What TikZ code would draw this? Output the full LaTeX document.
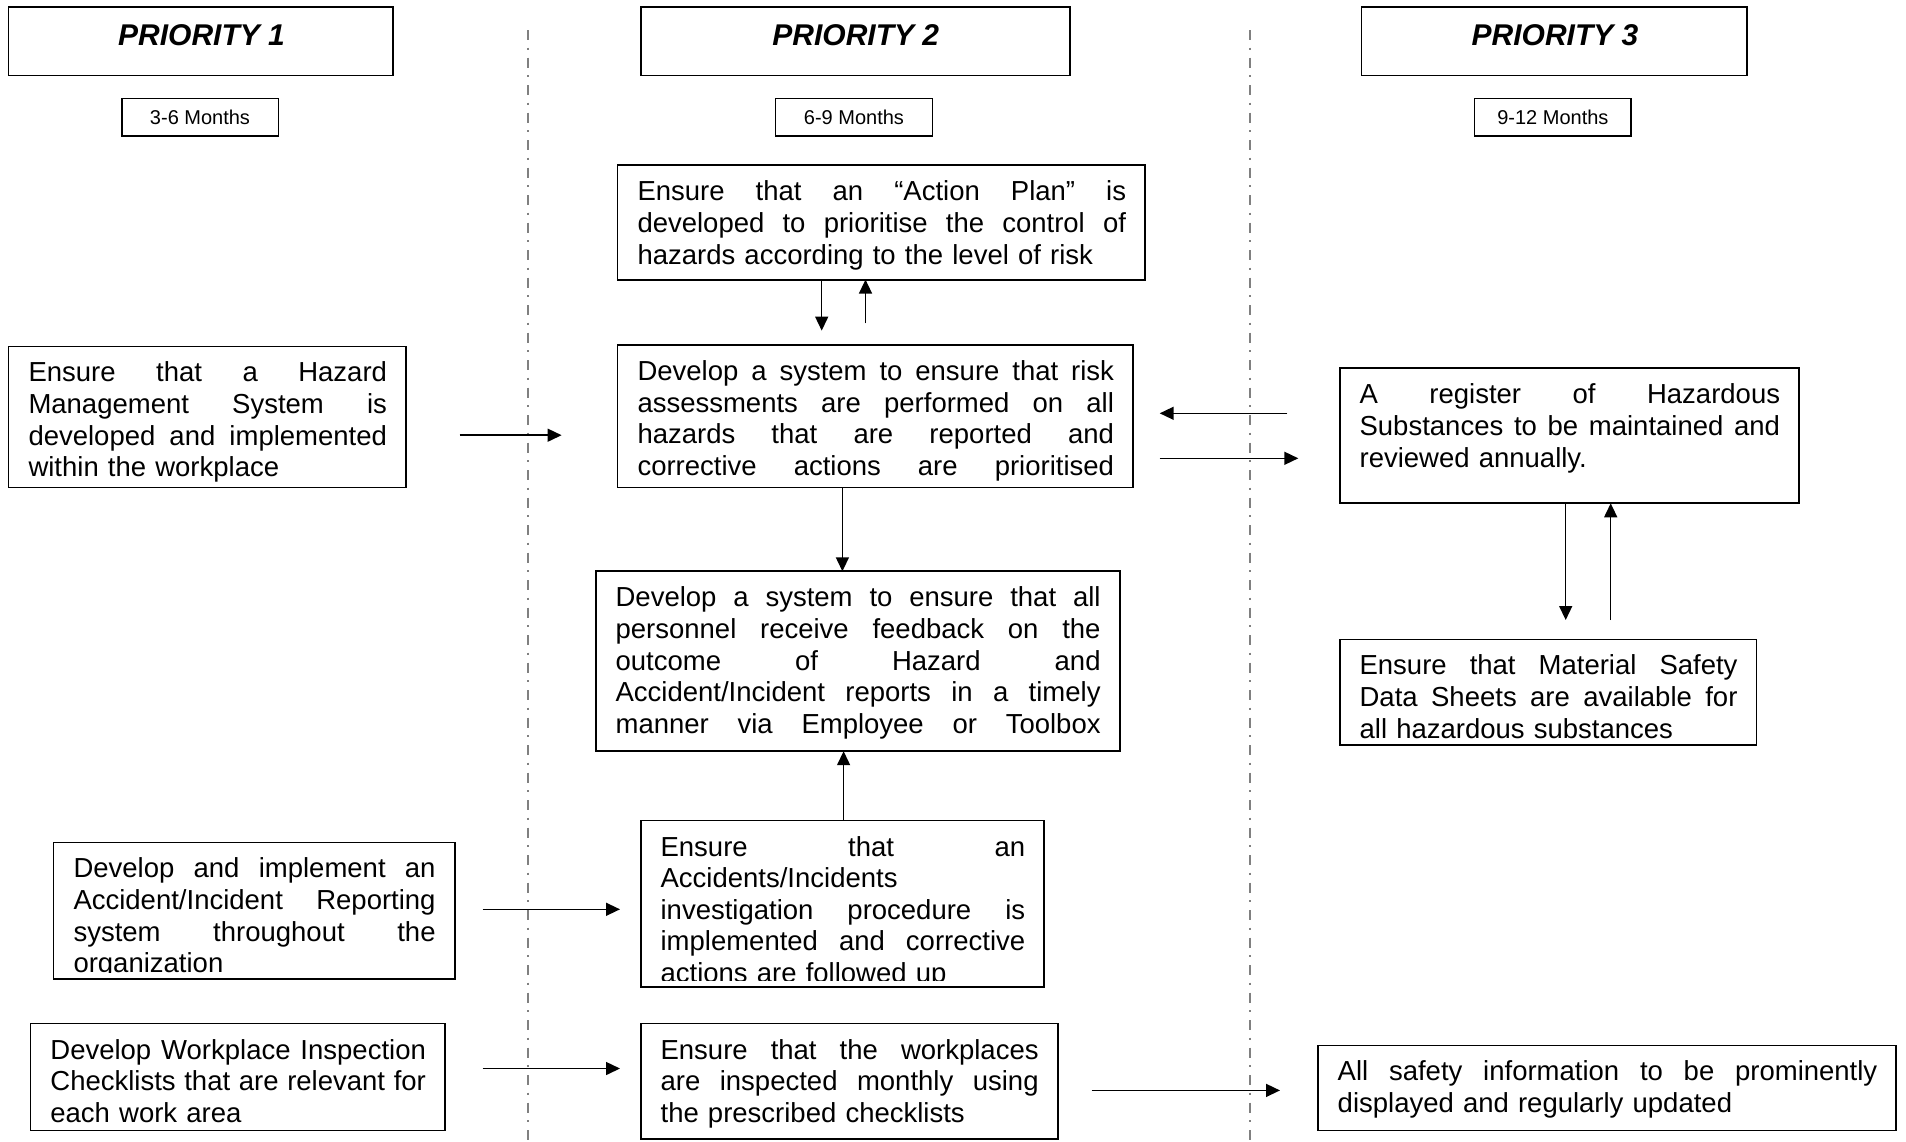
\documentclass[tikz,border=0pt]{standalone}
\usepackage{fontspec}
\setmainfont{Liberation Sans}
\usetikzlibrary{arrows.meta}

\tikzset{
  frame/.style={draw, line width=1.8pt, inner sep=0pt, outer sep=0pt},
  body/.style={inner sep=0pt, outer sep=0pt, align=left, font=\fontsize{27.5}{31.6}\selectfont},
  head/.style={inner sep=0pt, font=\fontsize{30}{36}\selectfont\bfseries\itshape},
  months/.style={frame, anchor=north west, font=\fontsize{20}{24}\selectfont},
  arr/.style={line width=1.5pt, -{Triangle[length=14pt,width=13pt]}},
  divider/.style={draw=black!50, line width=2pt, dash pattern=on 10pt off 7.5pt on 2pt off 8pt},
}

\newlength\tblen
% a line spread over the full text width: every word space stretches alike
\newcommand\spreadline[1]{\leavevmode\hbox to \tblen{\spaceskip=\fontdimen2\font plus 1fil\relax
  \xspaceskip=\spaceskip #1}}
% a justified line that is followed by another line
\newcommand\jl[1]{\spreadline{#1}\\}
% a justified line that ends the text
\newcommand\jx[1]{\spreadline{#1}}

% framed text box: name, x, y (top left), width, height, lines
\newcommand\tbox[6]{%
  \pgfmathsetmacro\tbw{#4-39}%
  \setlength\tblen{\tbw pt}%
  \node[frame, anchor=north west, minimum width=#4pt, minimum height=#5pt] (#1) at (#2,#3) {};
  \begin{scope}
    \clip (#2,#3) rectangle (#2+#4,#3+#5-6.5);
    \node[body, anchor=north west, text width=\tblen] (#1-txt) at (#2+20,#3+10.5)
      {\noindent\rule{0pt}{25pt}#6};
  \end{scope}}

\begin{document}
\begin{tikzpicture}[x=1pt, y=-1pt]
\fill[white] (0,0) rectangle (1906,1141);
\useasboundingbox (0,0) rectangle (1906,1141);

% column dividers
\draw[divider] (527.6,30) -- (527.6,1141);
\draw[divider] (1249.6,30) -- (1249.6,1141);

% column headings
\node[frame, anchor=north west, minimum width=384.1pt, minimum height=68.1pt] (p1) at (8.5,7.3) {};
\node[frame, anchor=north west, minimum width=429.1pt, minimum height=68.1pt] (p2) at (640.6,7.3) {};
\node[frame, anchor=north west, minimum width=385.3pt, minimum height=68.1pt] (p3) at (1361.5,7.3) {};
\node[head, anchor=base] (p1t) at (201.5,45.5) {PRIORITY 1};
\node[head, anchor=base] (p2t) at (855.8,45.5) {PRIORITY 2};
\node[head, anchor=base] (p3t) at (1555,45.5) {PRIORITY 3};

\node[months, minimum width=156.8pt, minimum height=37.6pt] (m1) at (121.6,98.5) {3-6 Months};
\node[months, minimum width=156.9pt, minimum height=37.6pt] (m2) at (775.5,98.5) {6-9 Months};
\node[months, minimum width=156.8pt, minimum height=37.6pt] (m3) at (1474.5,98.5) {9-12 Months};

% activity boxes
\tbox{action}{617.5}{165.3}{527.6}{114.3}{%
\jl{Ensure that an “Action Plan” is}
\jl{developed to prioritise the control of}
hazards according to the level of risk}

\tbox{hazard}{8.5}{346.4}{397.5}{141.1}{%
\jl{Ensure that a Hazard}
\jl{Management System is}
\jl{developed and implemented}
within the workplace}

\tbox{risk}{617.5}{345.2}{515.5}{142.3}{%
\jl{Develop a system to ensure that risk}
\jl{assessments are performed on all}
\jl{hazards that are reported and}
\jx{corrective actions are prioritised}}

\tbox{register}{1339.6}{368.3}{459.5}{135}{%
\jl{A register of Hazardous}
\jl{Substances to be maintained and}
reviewed annually.}

\tbox{msds}{1339.6}{639.4}{416.9}{105.8}{%
\jl{Ensure that Material Safety}
\jl{Data Sheets are available for}
all hazardous substances}

\tbox{feedback}{595.6}{571.3}{524}{179.9}{%
\jl{Develop a system to ensure that all}
\jl{personnel receive feedback on the}
\jl{outcome of Hazard and}
\jl{Accident/Incident reports in a timely}
\jx{manner via Employee or Toolbox}}

\tbox{investigation}{640.6}{820.5}{403.6}{166.6}{%
\jl{Ensure that an}
Accidents/Incidents\\
\jl{investigation procedure is}
\jl{implemented and corrective}
actions are followed up}

\tbox{reporting}{53.5}{842.4}{401.1}{136.2}{%
\jl{Develop and implement an}
\jl{Accident/Incident Reporting}
\jl{system throughout the}
organization}

\tbox{checklists}{30.4}{1023.5}{414.5}{107}{%
\jl{Develop Workplace Inspection}
\jl{Checklists that are relevant for}
each work area}

\tbox{monthly}{640.6}{1023.5}{417}{115.5}{%
\jl{Ensure that the workplaces}
\jl{are inspected monthly using}
the prescribed checklists}

\tbox{allsafety}{1317.7}{1045.4}{578.6}{85.1}{%
\jl{All safety information to be prominently}
displayed and regularly updated}

% connector levels
\coordinate (ya) at (0,435.2);
\coordinate (xb) at (821.7,0);
\coordinate (xc) at (865.5,0);
\coordinate (yd) at (0,413.3);
\coordinate (ye) at (0,458.3);
\coordinate (xf) at (1565.7,0);
\coordinate (xg) at (1610.7,0);
\coordinate (xh) at (842.4,0);
\coordinate (xi) at (843.6,0);
\coordinate (yj) at (0,909.3);
\coordinate (yk) at (0,1068.5);
\coordinate (yl) at (0,1090.4);

% connectors
\draw[arr, shorten <=53.5pt, shorten >=55.9pt] (hazard.east |- ya) -- (risk.west |- ya);
\draw[arr, shorten >=14.6pt] (action.south -| xb) -- (risk.north -| xb);
\draw[arr, shorten <=21.9pt] (risk.north -| xc) -- (action.south -| xc);
\draw[arr, shorten <=52.3pt, shorten >=26.7pt] (register.west |- yd) -- (risk.east |- yd);
\draw[arr, shorten <=26.7pt, shorten >=41.3pt] (risk.east |- ye) -- (register.west |- ye);
\draw[arr, shorten >=19.4pt] (register.south -| xf) -- (msds.north -| xf);
\draw[arr, shorten <=19.4pt] (msds.north -| xg) -- (register.south -| xg);
\draw[arr] (risk.south -| xh) -- (feedback.north -| xh);
\draw[arr] (investigation.north -| xi) -- (feedback.south -| xi);
\draw[arr, shorten <=28pt, shorten >=20.6pt] (reporting.east |- yj) -- (investigation.west |- yj);
\draw[arr, shorten <=37.7pt, shorten >=20.6pt] (checklists.east |- yk) -- (monthly.west |- yk);
\draw[arr, shorten <=34pt, shorten >=37.7pt] (monthly.east |- yl) -- (allsafety.west |- yl);
\end{tikzpicture}
\end{document}
